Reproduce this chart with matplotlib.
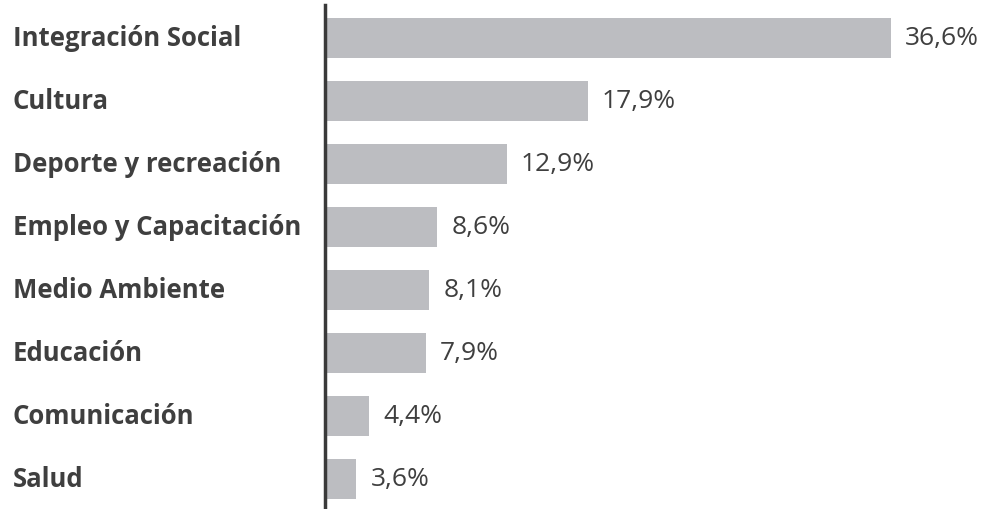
import matplotlib
matplotlib.use("Agg")
import matplotlib.pyplot as plt
from matplotlib.transforms import blended_transform_factory

# data
categories = ["Integración Social", "Cultura", "Deporte y recreación",
              "Empleo y Capacitación", "Medio Ambiente", "Educación",
              "Comunicación", "Salud"]
values = [36.6, 17.9, 12.9, 8.6, 8.1, 7.9, 4.4, 3.6]
value_labels = ["36,6%", "17,9%", "12,9%", "8,6%", "8,1%", "7,9%", "4,4%", "3,6%"]

bar_color = "#bcbdc1"
text_color = "#3f3f3f"

plt.rcParams["font.family"] = ["Open Sans", "DejaVu Sans"]

fig = plt.figure(figsize=(9.88, 5.09), dpi=100)
ax = fig.add_axes([325 / 988, 0, 663 / 988, 504 / 509])

y = list(range(len(categories)))
ax.barh(y, values, height=0.635, color=bar_color, left=0)

# value labels next to each bar
for yi, v, lab in zip(y, values, value_labels):
    ax.annotate(lab, (v, yi), xytext=(10, 0), textcoords="offset points",
                ha="left", va="center", fontsize=19, color=text_color)

# category labels, left aligned at the figure edge
trans = blended_transform_factory(fig.transFigure, ax.transData)
for yi, cat in zip(y, categories):
    ax.text(13 / 988, yi, cat, transform=trans, ha="left", va="center",
            fontsize=18.5, fontweight="bold", color=text_color)

ax.set_xlim(1.66, 42.59)
ax.set_ylim(7.476, -0.524)

for s in ["top", "right", "bottom"]:
    ax.spines[s].set_visible(False)
ax.spines["left"].set_color("#3a3a3a")
ax.spines["left"].set_linewidth(2.5)
ax.set_xticks([])
ax.set_yticks([])

fig.savefig("out.png", dpi=100)
